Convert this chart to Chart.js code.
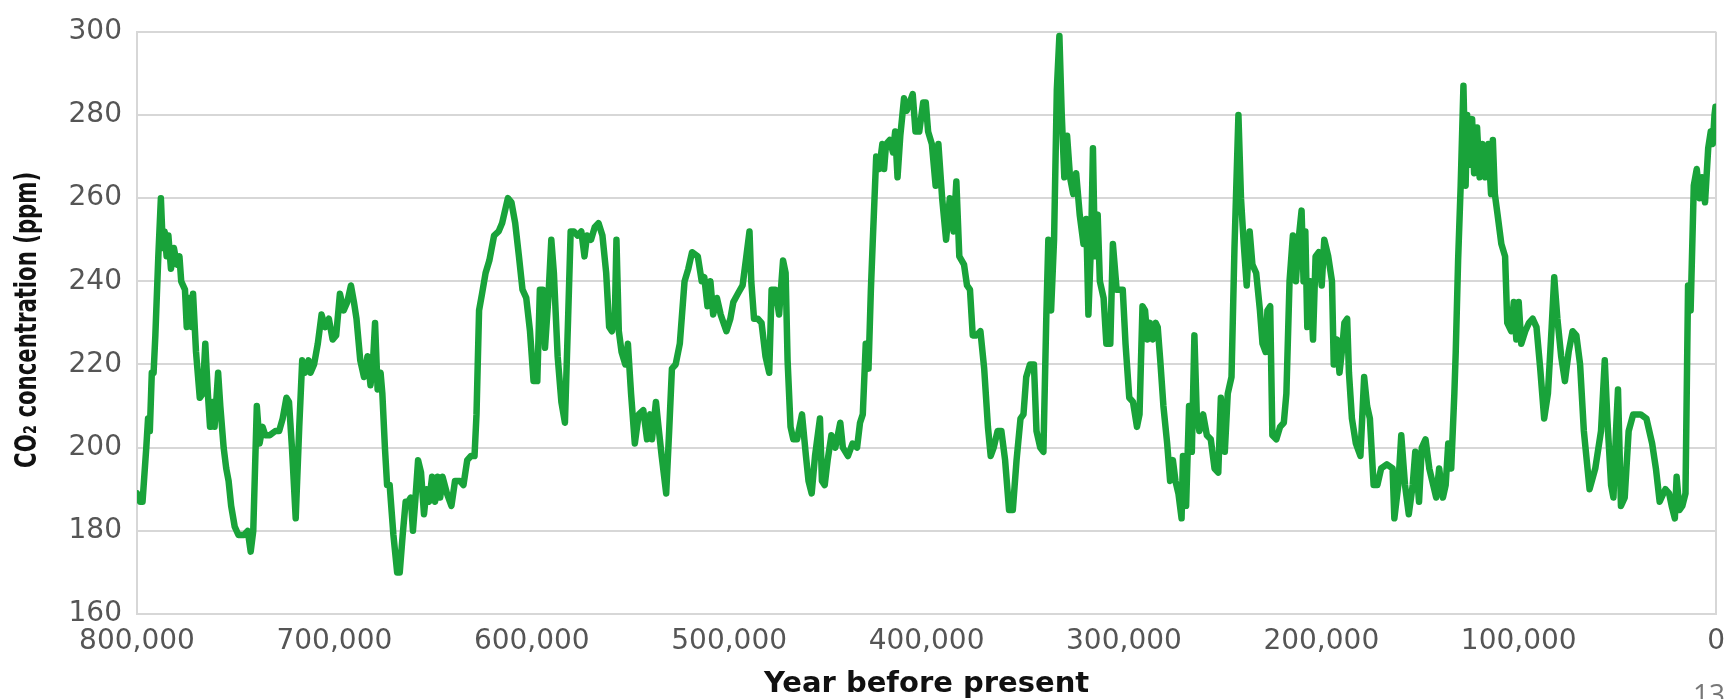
<!DOCTYPE html>
<html>
<head>
<meta charset="utf-8">
<script src="https://cdn.jsdelivr.net/npm/chart.js@4.4.0/dist/chart.umd.min.js"></script>
<style>
	html, body { margin: 0; padding: 0; background: #ffffff; overflow: hidden; }
	#wrap { position: relative; width: 1736px; height: 699px; }
	#pageNo { position: absolute; left: 1693px; top: 679px; font: 28px 'Open Sans', sans-serif; color: #777777; line-height: 1; }
</style>
</head>
<body>
<div id="wrap">
	<canvas id="co2Chart"></canvas>
	<div id="pageNo">13</div>
</div>
<script>
// age in thousands of years before present
const ageKyr = [
	800, 798.5, 797.2, 795.3, 794.4, 793.5, 792.5, 791.6, 790.7, 789.2, 787.9, 786.9, 786, 785, 784.1, 782.8,
	781.3, 779.8, 778.5, 777.6, 775.7, 774.8, 773.5, 772.3, 771.6, 770.1, 768.2, 766.7, 765.4, 764.1, 763, 761.7,
	760.7, 758.9, 757.8, 756.1, 754.8, 753.6, 752.3, 750.5, 748.6, 745.8, 743.9, 742.4, 741.1, 739.3, 737.9, 736.4,
	735, 732.7, 729.9, 728, 726.2, 724.3, 723, 721.5, 719.6, 717.8, 716.3, 715, 713.1, 712.1, 710.3, 708.4,
	706.5, 704.7, 702.8, 700.9, 699.1, 697.2, 695.3, 693.5, 691.6, 690.1, 688.8, 686.9, 685, 683.2, 681.7, 680.4,
	679.4, 678.1, 676.6, 675.7, 674.4, 673.3, 672, 670.1, 668.2, 666.9, 665.4, 663.9, 662.6, 661.3, 660.2, 658.9,
	657.6, 656.1, 654.6, 653.3, 652, 650.5, 649, 647.7, 646.4, 645.2, 643, 640.7, 638.9, 636.4, 634.6, 632.7,
	630.8, 629, 628, 626.7, 625.2, 623.4, 621.5, 619.1, 616.8, 615, 612.1, 610.3, 608.4, 606.5, 604.7, 602.8,
	600.9, 599.1, 597.2, 595.9, 594.4, 593.3, 591.6, 590.1, 588.8, 586.9, 585, 583.2,
	581.6, 580.3, 578.7, 576.8, 574.9, 573.3, 572, 570, 568.1, 566.2, 564.2, 562.3, 560.8, 559.4, 557.9, 557.1,
	555.9, 554.5, 552.6, 551.3, 549.7, 547.8, 545.8, 543.5, 541.6, 540, 539.1, 537.1, 535.8, 534.2, 531.9, 530.4,
	529, 527.1, 525, 522.6, 520.7, 518.8, 515.9, 513.9, 512.6, 511, 509.5, 508.1, 506.2, 504.3, 501.4, 499.4,
	497.9, 495.6, 493.2, 491.3, 489.7, 488.8, 487.4, 485.5, 483.6, 481.6, 479.7, 478.5, 476.6, 474.7, 472.7, 471.4,
	470.4, 468.9, 467.5, 465.6, 463.1, 461.1, 459.8, 458.2, 456.5, 454, 453, 451.6, 450.1, 448.2, 446.2, 443.7,
	442.4, 439.8, 437.5, 435.2, 433.7, 432.3, 430.8, 429.4, 428.2, 427.3, 425.5, 424, 422.4, 421.5, 420.5, 418.6,
	417, 415.9, 414.7, 413.3, 411.4, 410.1, 408.5, 407, 405.6, 403.7, 401.7, 400.4, 399.2, 397.3, 395.4, 394,
	392.1, 390.1, 388.2, 386.3, 384.9, 383.4, 381, 379.5, 378, 376.6, 374.7, 372.7, 370.8, 368.9, 367.5, 366,
	364, 362.1, 360.2, 358.2, 356.3, 354.4, 352.4, 350.9, 349.5, 347.6, 345.6, 344.3, 342.4, 340.8, 339.3, 338.3,
	336.9, 335.4, 334, 332.7, 331.5, 330.2, 328.8, 327.3, 325.7, 324.2, 322.4, 320.5, 319.1, 318, 316.6, 315.7,
	314.7, 313.3, 312.2, 310.3, 308.9, 306.9, 305.6, 303.7, 302.1, 300.6, 299.2, 297.3, 295.4, 293.4, 292.1,
	290.6, 289.3, 288.1, 286.8, 285.4, 283.9, 282.9, 281.6, 280, 278.1, 276.6, 275.2, 273.9, 272.4, 270.8, 270.1,
	268.5, 267, 265.6, 264.3, 263.1, 261.8, 259.9, 258, 256, 254.1, 252.2, 250.9, 248.9, 247.4, 245.5, 244,
	242, 240.7, 239.3, 237.8, 236.3, 234.9, 233, 231.1, 229.8, 228.2, 227.3, 225.9, 224.8, 222.8, 220.9, 219,
	217.7, 216.1, 214.4, 212.9, 211.3, 210, 209, 208.1, 207.1, 205.6, 204.2, 202.9, 201.3, 199.8, 198.5, 196.5,
	194.6, 193.7, 192.1, 190.8, 189.4, 188.3, 186.9, 186, 184.5, 182.5, 180.2, 178.3, 176.8, 175.4, 173.5, 171.6,
	169.7, 166.8, 163.9, 163, 161, 159.5, 157.6, 155.7, 153.7, 152.4, 150.5, 149.1, 147.2, 145.3, 143.8, 141.8,
	140.3, 138.4, 137, 135.7, 134.2, 132.6, 131.9, 130.7, 129.4, 128, 126.9, 126.1, 125, 123.6, 122.6, 121.1,
	119.8, 118.4, 116.9, 115.4, 114, 113.1, 112.1, 110.7, 108.8, 106.9, 105.8, 103.8, 102.5, 101.2, 100, 98.7,
	96.7, 94.8, 92.9, 91, 89.1, 87.1, 85.2, 83.3, 82, 80.4, 78.5, 76.6, 74.7, 72.7, 70.8, 68.9,
	67, 64.1, 61.2, 58.3, 56.4, 55.1, 53.2, 52, 50.7, 49.7, 48.2, 46.3, 44.3, 42, 38.2, 35.3,
	32.4, 30.5, 28.6, 25.7, 23.8, 22.5, 20.9, 20, 18.6, 17.1, 15.5, 14.2, 12.9, 11.3, 9.8, 8.4,
	7.1, 5.6, 4, 2.7, 1.7, 0.8, 0.3, 0
]

// CO2 in ppm, same order as ageKyr
const co2Ppm = [
	189, 187, 187, 200, 207, 204, 218, 218, 227, 246, 260, 248, 252, 246, 251, 243,
	248, 244, 246, 240, 238, 229, 236, 229, 237, 223, 212, 213, 225, 213, 205, 211,
	205, 218, 210, 200, 195, 192, 186, 181, 179, 179, 180, 175, 180, 210, 201, 205,
	203, 203, 204, 204, 207, 212, 211, 200, 183, 205, 221, 218, 221, 218, 220, 225,
	232, 229, 231, 226, 227, 237, 233, 235, 239, 235, 231, 221, 217, 222, 215, 221,
	230, 214, 218, 213, 200, 191, 191, 179, 170, 170, 179, 187, 187, 188, 180, 188,
	197, 194, 184, 190, 187, 193, 187, 193, 188, 193, 189, 186, 192, 192, 191, 197,
	198, 198, 208, 233, 237, 242, 245, 251, 252, 254, 260, 259, 254, 246, 238, 236,
	228, 216, 216, 238, 238, 224, 236, 250, 242, 222, 211, 206,
	231, 252, 252, 251, 252, 246, 251, 250, 253, 254, 251, 242, 229, 228, 232, 250,
	228, 223, 220, 225, 213, 201, 208, 209, 202, 208, 202, 211, 205, 198, 189, 204,
	219, 220, 225, 240, 243, 247, 246, 240, 241, 234, 240, 232, 236, 232, 228, 231,
	235, 237, 239, 246, 252, 240, 231, 231, 230, 222, 218, 238, 238, 232, 245, 242,
	221, 205, 202, 202, 208, 198, 192, 189, 198, 207, 192, 191, 197, 203, 200, 206,
	200, 198, 201, 200, 206, 208, 225, 219, 238, 249, 270, 267, 273, 267, 273, 274,
	271, 276, 265, 275, 284, 281, 283, 285, 276, 276, 283, 283, 276, 273, 263, 273,
	260, 250, 260, 252, 264, 246, 244, 239, 238, 227, 227, 228, 219, 205, 198, 200,
	204, 204, 197, 185, 185, 197, 207, 208, 217, 220, 220, 204, 200, 199, 232, 250,
	233, 250, 286, 299, 280, 265, 275, 265, 261, 266, 256, 249, 255, 232, 250, 272,
	246, 256, 240, 236, 225, 225, 249, 238, 238, 238, 225, 212, 211, 205, 208,
	234, 233, 226, 230, 226, 230, 229, 221, 210, 201, 192, 197, 192, 189, 183, 198,
	186, 210, 199, 227, 208, 204, 208, 203, 202, 195, 194, 212, 199, 213, 217, 248,
	280, 260, 249, 239, 252, 244, 242, 233, 225, 223, 233, 234, 203, 202, 205, 206,
	213, 240, 251, 240, 251, 257, 240, 252, 229, 240, 226, 246, 247, 239, 250, 246,
	240, 220, 226, 218, 224, 230, 231, 218, 207, 201, 198, 217, 210, 207, 191, 191,
	195, 196, 195, 183, 191, 203, 191, 184, 191, 199, 187, 200, 202, 195, 192, 188,
	195, 188, 191, 201, 195, 213, 223, 245, 263, 287, 263, 280, 268, 279, 266, 277,
	265, 273, 265, 273, 261, 274, 261, 256, 249, 246, 230, 228, 235, 226, 235, 225,
	228, 230, 231, 229, 219, 207, 213, 229, 241, 231, 222, 216, 223, 228, 227, 220,
	204, 190, 195, 204, 221, 207, 191, 188, 204, 214, 186, 188, 204, 208, 208, 207,
	201, 195, 187, 190, 189, 186, 183, 193, 185, 186, 189, 239, 233, 263, 267, 260,
	265, 259, 272, 276, 273, 280, 282, 278
]

const yearTicks = [800000, 700000, 600000, 500000, 400000, 300000, 200000, 100000, 0]
const ppmTicks = [160, 180, 200, 220, 240, 260, 280, 300]
const yTitle = 'CO₂ concentration (ppm)'

const points = ageKyr.map((age, i) => ({ x: age * 1000, y: co2Ppm[i] }))

const gridGrey = '#d7d7d7'
const tickGrey = '#555555'
const tickFont = { family: "'DejaVu Sans', sans-serif", size: 28 }

// the y title in the figure is a tall condensed bold face, squeeze it to fit
const condensedTitle = {
	id: 'condensedTitle',
	afterDraw(chart) {
		const { ctx, chartArea } = chart
		ctx.save()
		ctx.font = "bold 31px 'DejaVu Sans Condensed', 'DejaVu Sans', sans-serif"
		const w = ctx.measureText(yTitle).width
		const squeeze = 296 / w
		ctx.translate(28, (chartArea.top + chartArea.bottom) / 2 - 3)
		ctx.rotate(-Math.PI / 2)
		ctx.scale(squeeze, 1)
		ctx.fillStyle = '#111111'
		ctx.textAlign = 'center'
		ctx.textBaseline = 'middle'
		ctx.fillText(yTitle, 0, 0)
		ctx.restore()
	}
}

const ctx = document.getElementById('co2Chart').getContext('2d')

new Chart(ctx, {
	type: 'line',
	data: {
		datasets: [{
			label: 'CO2',
			data: points,
			borderColor: '#19a33a',
			borderWidth: 6.5,
			pointRadius: 0,
			fill: false,
			tension: 0,
			borderJoinStyle: 'round',
			borderCapStyle: 'round'
		}]
	},
	options: {
		responsive: true,
		maintainAspectRatio: false,
		animation: false,
		layout: {
			padding: { top: 20, right: 13, bottom: 0, left: 0 }
		},
		scales: {
			x: {
				type: 'linear',
				reverse: true,
				min: 0,
				max: 800000,
				afterBuildTicks: axis => {
					axis.ticks = yearTicks.map(v => ({ value: v }))
				},
				afterFit: axis => {
					axis.height = 85
				},
				ticks: {
					color: tickGrey,
					font: tickFont,
					padding: 11,
					maxRotation: 0,
					autoSkip: false,
					callback: value => value.toLocaleString('en-US')
				},
				grid: {
					drawTicks: false,
					lineWidth: 2,
					color: c => (c.tick && c.tick.value === 0) ? gridGrey : 'rgba(0,0,0,0)'
				},
				border: { display: true, color: gridGrey, width: 2 },
				title: {
					display: true,
					text: 'Year before present',
					color: '#111111',
					font: { family: "'DejaVu Sans', sans-serif", size: 29, weight: 'bold', lineHeight: 1 },
					padding: { top: 0, bottom: 0 }
				}
			},
			y: {
				min: 160,
				max: 300,
				afterBuildTicks: axis => {
					axis.ticks = ppmTicks.map(v => ({ value: v }))
				},
				afterFit: axis => {
					axis.width = 137
				},
				ticks: {
					color: tickGrey,
					font: tickFont,
					padding: 15
				},
				grid: {
					drawTicks: false,
					color: gridGrey,
					lineWidth: 2
				},
				border: { display: true, color: gridGrey, width: 2 }
			}
		},
		plugins: {
			legend: { display: false },
			tooltip: { enabled: false }
		}
	},
	plugins: [condensedTitle]
})
</script>
</body>
</html>
